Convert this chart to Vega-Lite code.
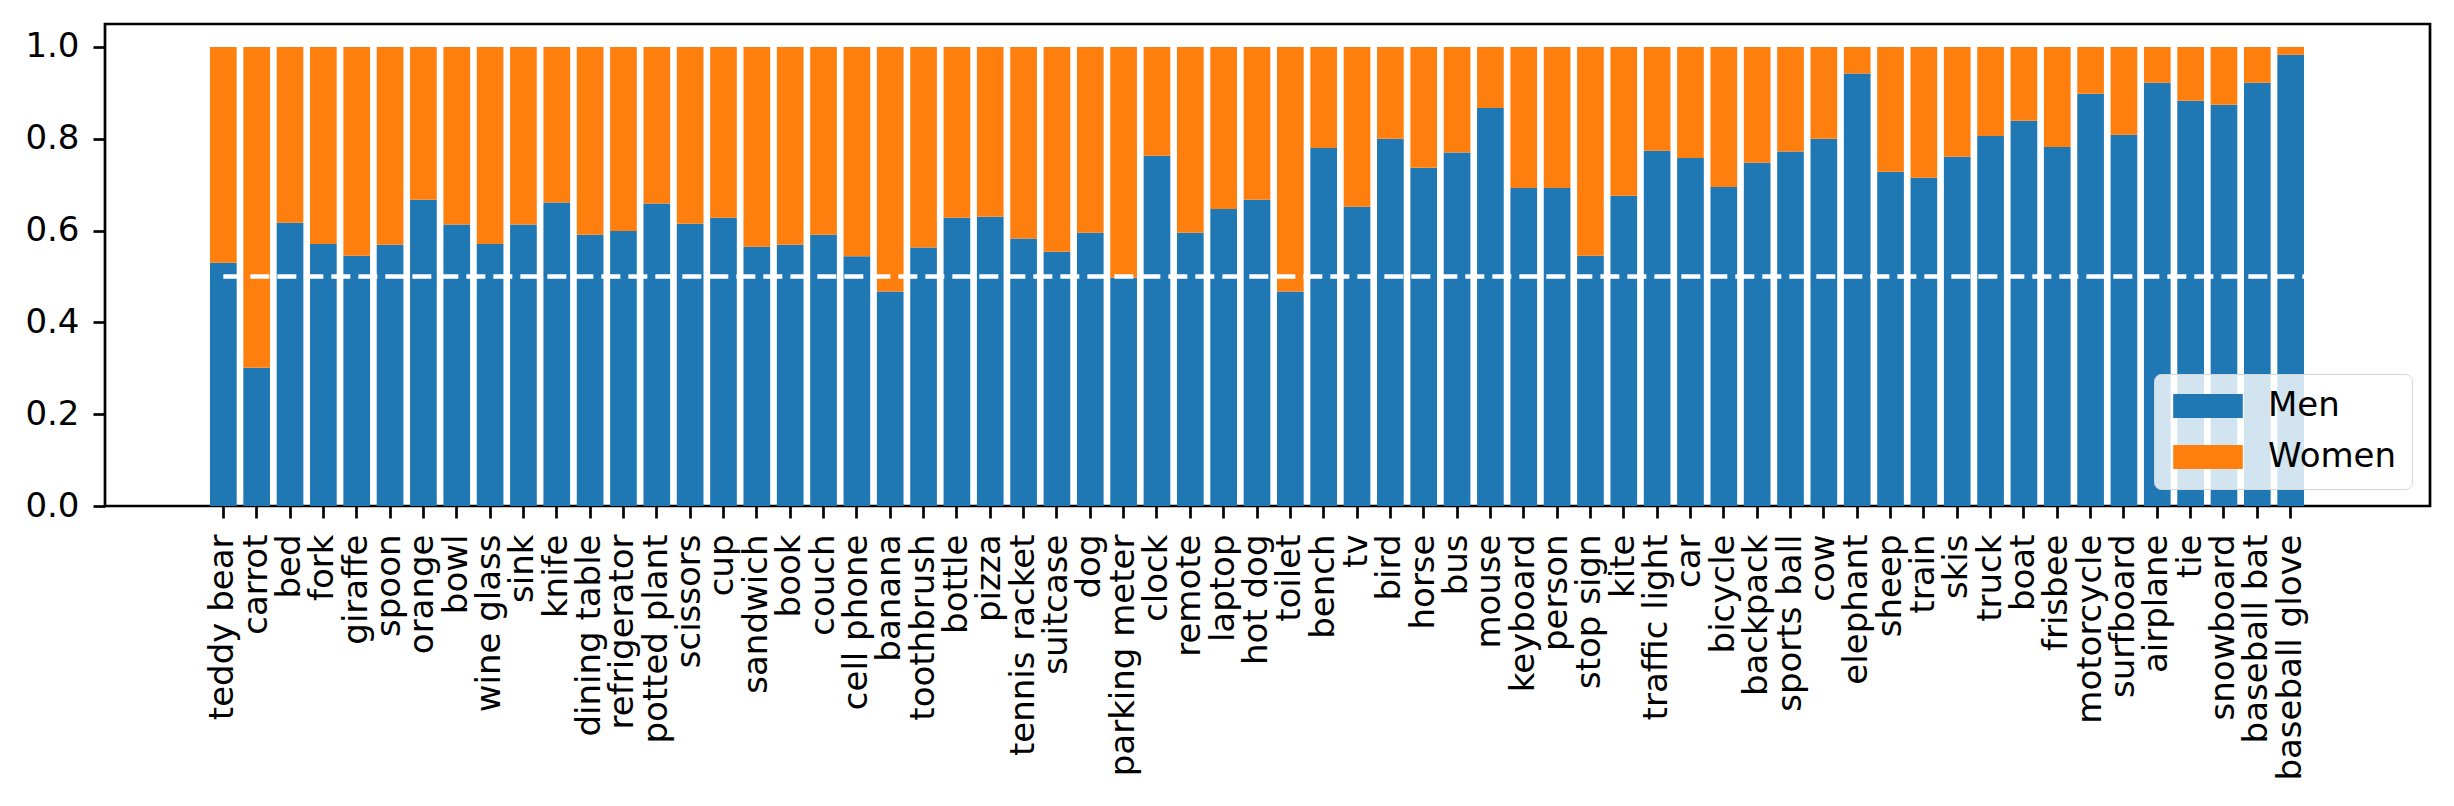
{
  "$schema": "https://vega.github.io/schema/vega-lite/v6.json",
  "width": 2325,
  "height": 482,
  "autosize": {"type": "none"},
  "padding": {"left": 105, "top": 24, "right": 24, "bottom": 300},
  "background": "white",
  "config": {
    "font": "DejaVu Sans",
    "view": {"stroke": "black", "strokeWidth": 2.7},
    "axis": {
      "domain": false,
      "grid": false,
      "ticks": true,
      "tickSize": 12,
      "tickWidth": 2.7,
      "tickColor": "black",
      "labelFont": "DejaVu Sans",
      "labelFontSize": 34,
      "labelColor": "black",
      "labelPadding": 14,
      "title": null
    },
    "legend": {
      "strokeColor": "#d6d6d6",
      "fillColor": "rgba(255,255,255,0.8)",
      "cornerRadius": 7,
      "padding": 15
    }
  },
  "layer": [
    {
      "data": {
        "values": [
          {"object": "teddy bear", "Men": 0.530, "Women": 0.470},
          {"object": "carrot", "Men": 0.301, "Women": 0.699},
          {"object": "bed", "Men": 0.617, "Women": 0.383},
          {"object": "fork", "Men": 0.571, "Women": 0.429},
          {"object": "giraffe", "Men": 0.545, "Women": 0.455},
          {"object": "spoon", "Men": 0.569, "Women": 0.431},
          {"object": "orange", "Men": 0.667, "Women": 0.333},
          {"object": "bowl", "Men": 0.613, "Women": 0.387},
          {"object": "wine glass", "Men": 0.571, "Women": 0.429},
          {"object": "sink", "Men": 0.613, "Women": 0.387},
          {"object": "knife", "Men": 0.661, "Women": 0.339},
          {"object": "dining table", "Men": 0.591, "Women": 0.409},
          {"object": "refrigerator", "Men": 0.599, "Women": 0.401},
          {"object": "potted plant", "Men": 0.659, "Women": 0.341},
          {"object": "scissors", "Men": 0.615, "Women": 0.385},
          {"object": "cup", "Men": 0.628, "Women": 0.372},
          {"object": "sandwich", "Men": 0.565, "Women": 0.435},
          {"object": "book", "Men": 0.569, "Women": 0.431},
          {"object": "couch", "Men": 0.591, "Women": 0.409},
          {"object": "cell phone", "Men": 0.544, "Women": 0.456},
          {"object": "banana", "Men": 0.467, "Women": 0.533},
          {"object": "toothbrush", "Men": 0.563, "Women": 0.437},
          {"object": "bottle", "Men": 0.628, "Women": 0.372},
          {"object": "pizza", "Men": 0.630, "Women": 0.370},
          {"object": "tennis racket", "Men": 0.583, "Women": 0.417},
          {"object": "suitcase", "Men": 0.554, "Women": 0.446},
          {"object": "dog", "Men": 0.595, "Women": 0.405},
          {"object": "parking meter", "Men": 0.497, "Women": 0.503},
          {"object": "clock", "Men": 0.763, "Women": 0.237},
          {"object": "remote", "Men": 0.595, "Women": 0.405},
          {"object": "laptop", "Men": 0.647, "Women": 0.353},
          {"object": "hot dog", "Men": 0.667, "Women": 0.333},
          {"object": "toilet", "Men": 0.467, "Women": 0.533},
          {"object": "bench", "Men": 0.780, "Women": 0.220},
          {"object": "tv", "Men": 0.652, "Women": 0.348},
          {"object": "bird", "Men": 0.800, "Women": 0.200},
          {"object": "horse", "Men": 0.737, "Women": 0.263},
          {"object": "bus", "Men": 0.770, "Women": 0.230},
          {"object": "mouse", "Men": 0.867, "Women": 0.133},
          {"object": "keyboard", "Men": 0.693, "Women": 0.307},
          {"object": "person", "Men": 0.693, "Women": 0.307},
          {"object": "stop sign", "Men": 0.545, "Women": 0.455},
          {"object": "kite", "Men": 0.676, "Women": 0.324},
          {"object": "traffic light", "Men": 0.774, "Women": 0.226},
          {"object": "car", "Men": 0.758, "Women": 0.242},
          {"object": "bicycle", "Men": 0.695, "Women": 0.305},
          {"object": "backpack", "Men": 0.748, "Women": 0.252},
          {"object": "sports ball", "Men": 0.772, "Women": 0.228},
          {"object": "cow", "Men": 0.800, "Women": 0.200},
          {"object": "elephant", "Men": 0.942, "Women": 0.058},
          {"object": "sheep", "Men": 0.728, "Women": 0.272},
          {"object": "train", "Men": 0.715, "Women": 0.285},
          {"object": "skis", "Men": 0.761, "Women": 0.239},
          {"object": "truck", "Men": 0.806, "Women": 0.194},
          {"object": "boat", "Men": 0.839, "Women": 0.161},
          {"object": "frisbee", "Men": 0.782, "Women": 0.218},
          {"object": "motorcycle", "Men": 0.898, "Women": 0.102},
          {"object": "surfboard", "Men": 0.809, "Women": 0.191},
          {"object": "airplane", "Men": 0.922, "Women": 0.078},
          {"object": "tie", "Men": 0.883, "Women": 0.117},
          {"object": "snowboard", "Men": 0.874, "Women": 0.126},
          {"object": "baseball bat", "Men": 0.922, "Women": 0.078},
          {"object": "baseball glove", "Men": 0.983, "Women": 0.017}
        ]
      },
      "transform": [{"fold": ["Men", "Women"], "as": ["sex", "share"]}],
      "mark": {"type": "bar"},
      "encoding": {
        "x": {
          "field": "object",
          "type": "nominal",
          "sort": null,
          "scale": {"paddingInner": 0.2, "paddingOuter": 0, "range": [105, 2199]},
          "axis": {
            "labelAngle": -90,
            "labelPadding": 16,
            "labelLimit": 0,
            "labelOverlap": false,
            "labelBound": false,
            "labelFlush": false
          }
        },
        "y": {
          "field": "share",
          "type": "quantitative",
          "stack": "zero",
          "scale": {"domain": [0, 1.05], "nice": false},
          "axis": {"values": [0, 0.2, 0.4, 0.6, 0.8, 1.0], "format": ".1f"}
        },
        "color": {
          "field": "sex",
          "type": "nominal",
          "scale": {"domain": ["Men", "Women"], "range": ["#1f77b4", "#ff7f0e"]},
          "legend": {
            "title": null,
            "orient": "none",
            "legendX": 2049,
            "legendY": 350,
            "direction": "vertical",
            "symbolType": "M-2.9,-1H2.9V1H-2.9Z",
            "symbolSize": 576,
            "symbolStrokeWidth": 0,
            "symbolOpacity": 1,
            "symbolOffset": 22,
            "labelOffset": 43,
            "labelFont": "DejaVu Sans",
            "labelFontSize": 34,
            "labelColor": "black",
            "rowPadding": 17
          }
        },
        "order": {"field": "sex", "sort": "ascending"}
      }
    },
    {
      "data": {"values": [{"level": 0.5}]},
      "mark": {"type": "rule", "color": "white", "strokeWidth": 4.5, "strokeDash": [19, 8]},
      "encoding": {
        "x": {"datum": "teddy bear"},
        "x2": {"datum": "baseball glove", "bandPosition": 1},
        "y": {"field": "level", "type": "quantitative"}
      }
    }
  ]
}
